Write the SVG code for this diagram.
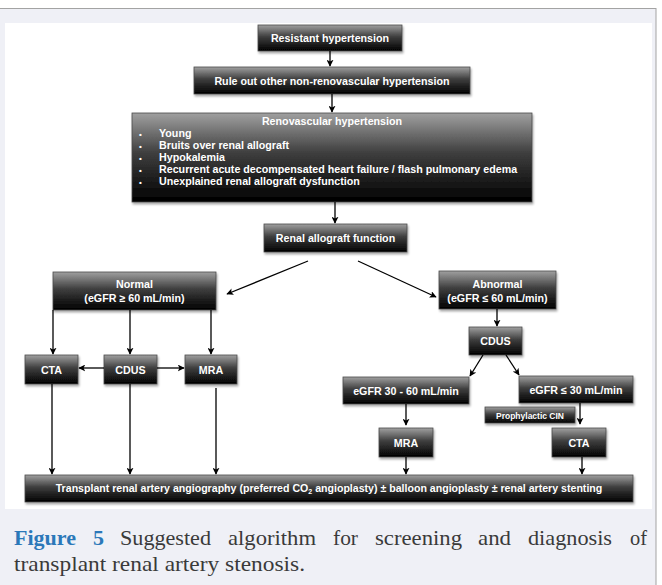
<svg xmlns="http://www.w3.org/2000/svg" width="662" height="585" viewBox="0 0 662 585">
<defs>
<linearGradient id="g" x1="0" y1="0" x2="0" y2="1">
<stop offset="0" stop-color="#a0a0a0"/>
<stop offset="0.45" stop-color="#3e3e3e"/>
<stop offset="1" stop-color="#000"/>
</linearGradient>
<filter id="sh" x="-10%" y="-20%" width="120%" height="150%">
<feDropShadow dx="1" dy="2" stdDeviation="1.2" flood-color="#000" flood-opacity="0.35"/>
</filter>
<marker id="ah" viewBox="0 0 10 10" refX="9" refY="5" markerWidth="7" markerHeight="7" markerUnits="userSpaceOnUse" orient="auto">
<path d="M0,0 L10,5 L0,10 L2.5,5 z" fill="#000"/>
</marker>
<style>
.box{fill:url(#g);stroke:#4a4a4a;stroke-width:0.8;filter:url(#sh)}
.t{font-family:"Liberation Sans",Arial,Helvetica,sans-serif;font-weight:bold;fill:#fff;font-size:10.7px;text-anchor:middle}
.tl{text-anchor:start}
.c line,.c path{stroke:#000;stroke-width:1.3;fill:none}
.a{marker-end:url(#ah)}
.cap{font-family:"Liberation Serif","Times New Roman",serif;font-size:22px;fill:#3a3a3a}
.capb{font-weight:bold;fill:#2b78b9}
</style>
</defs>
<rect x="0" y="0" width="662" height="585" fill="#fff"/>
<rect x="-1" y="8.5" width="657" height="600" fill="#eff0f6" stroke="#a3a3a3" stroke-width="1"/>
<rect x="5" y="23" width="647" height="486" fill="#fff"/>

<g id="resistant"><rect class="box" x="258" y="25" width="144" height="26"/><text class="t" x="330" y="42">Resistant hypertension</text></g>
<g id="ruleout"><rect class="box" x="194" y="67" width="276" height="27"/><text class="t" x="332" y="84.5">Rule out other non-renovascular hypertension</text></g>
<g id="renovascular"><rect class="box" x="132" y="113" width="400" height="89"/>
<text class="t" x="332" y="124.5">Renovascular hypertension</text>
<text class="t tl" x="139" y="136.5" style="font-size:8px">•</text><text class="t tl" x="159" y="136.5">Young</text>
<text class="t tl" x="139" y="148.5" style="font-size:8px">•</text><text class="t tl" x="159" y="148.5">Bruits over renal allograft</text>
<text class="t tl" x="139" y="160.5" style="font-size:8px">•</text><text class="t tl" x="159" y="160.5">Hypokalemia</text>
<text class="t tl" x="139" y="172.5" style="font-size:8px">•</text><text class="t tl" x="159" y="172.5">Recurrent acute decompensated heart failure / flash pulmonary edema</text>
<text class="t tl" x="139" y="184.5" style="font-size:8px">•</text><text class="t tl" x="159" y="184.5">Unexplained renal allograft dysfunction</text>
</g>
<g id="renalfunction"><rect class="box" x="264" y="224" width="143" height="28"/><text class="t" x="335.5" y="242">Renal allograft function</text></g>
<g id="normal"><rect class="box" x="53" y="272" width="163" height="38"/><text class="t" x="134.5" y="288">Normal</text><text class="t" x="134.5" y="301.5">(eGFR ≥ 60 mL/min)</text></g>
<g id="abnormal"><rect class="box" x="439" y="271" width="117" height="38"/><text class="t" x="497.5" y="288">Abnormal</text><text class="t" x="497.5" y="301.5">(eGFR ≤ 60 mL/min)</text></g>
<g id="cdus-right"><rect class="box" x="469" y="327" width="53" height="28"/><text class="t" x="495.5" y="345">CDUS</text></g>
<g id="cta-left"><rect class="box" x="25" y="355" width="53" height="29"/><text class="t" x="51.5" y="373.5">CTA</text></g>
<g id="cdus-left"><rect class="box" x="104" y="355" width="53" height="29"/><text class="t" x="130.5" y="373.5">CDUS</text></g>
<g id="mra-left"><rect class="box" x="185" y="355" width="52" height="29"/><text class="t" x="211" y="373.5">MRA</text></g>
<g id="egfr30-60"><rect class="box" x="343" y="377" width="126" height="27"/><text class="t" x="406" y="394.5">eGFR 30 - 60 mL/min</text></g>
<g id="egfr30"><rect class="box" x="519" y="376" width="114" height="27"/><text class="t" x="576" y="393.5">eGFR ≤ 30 mL/min</text></g>
<g id="cin"><rect class="box" x="485" y="407" width="90" height="16"/><text class="t" x="530" y="418.5" style="font-size:8.5px">Prophylactic CIN</text></g>
<g id="mra-right"><rect class="box" x="379" y="428" width="54" height="29"/><text class="t" x="406" y="446.5">MRA</text></g>
<g id="cta-right"><rect class="box" x="552" y="428" width="54" height="29"/><text class="t" x="579" y="446.5">CTA</text></g>
<g id="angiography"><rect class="box" x="25" y="475" width="608" height="27"/><text class="t" x="329" y="492" style="font-size:10.6px">Transplant renal artery angiography (preferred CO<tspan style="font-size:7px" dy="2">2</tspan><tspan dy="-2"> angioplasty) ± balloon angioplasty ± renal artery stenting</tspan></text></g>

<g id="connectors" class="c">
<line class="a" x1="330" y1="51" x2="330" y2="66"/>
<line class="a" x1="332" y1="94" x2="332" y2="112"/>
<line class="a" x1="335" y1="202" x2="335" y2="223"/>
<line class="a" x1="308" y1="261" x2="227" y2="294"/>
<line class="a" x1="358" y1="261" x2="436" y2="297"/>
<line class="a" x1="53" y1="310" x2="53" y2="354"/>
<line class="a" x1="130" y1="310" x2="130" y2="354"/>
<line class="a" x1="211" y1="310" x2="211" y2="354"/>
<line class="a" x1="104" y1="368" x2="79" y2="368"/>
<line class="a" x1="157" y1="368" x2="184" y2="368"/>
<line class="a" x1="52" y1="384" x2="52" y2="474"/>
<line class="a" x1="130" y1="384" x2="130" y2="474"/>
<line class="a" x1="216" y1="388" x2="216" y2="474"/>
<line class="a" x1="497" y1="309" x2="497" y2="326"/>
<line class="a" x1="483" y1="355" x2="470" y2="376"/>
<line class="a" x1="506" y1="355" x2="519" y2="375"/>
<line class="a" x1="406" y1="404" x2="406" y2="425"/>
<line class="a" x1="580" y1="403" x2="580" y2="424"/>
<line class="a" x1="406" y1="457" x2="406" y2="474"/>
<line class="a" x1="582" y1="457" x2="582" y2="474"/>
</g>

<g id="caption" class="cap">
<text class="capb" x="14" y="545" textLength="62" lengthAdjust="spacingAndGlyphs">Figure</text>
<text class="capb" x="93" y="545">5</text>
<text x="120" y="545" textLength="91" lengthAdjust="spacingAndGlyphs">Suggested</text>
<text x="228" y="545" textLength="88" lengthAdjust="spacingAndGlyphs">algorithm</text>
<text x="333" y="545" textLength="25" lengthAdjust="spacingAndGlyphs">for</text>
<text x="375" y="545" textLength="87" lengthAdjust="spacingAndGlyphs">screening</text>
<text x="478" y="545" textLength="33" lengthAdjust="spacingAndGlyphs">and</text>
<text x="528" y="545" textLength="84" lengthAdjust="spacingAndGlyphs">diagnosis</text>
<text x="630" y="545" textLength="17" lengthAdjust="spacingAndGlyphs">of</text>
<text x="14" y="571" textLength="291" lengthAdjust="spacingAndGlyphs">transplant renal artery stenosis.</text>
</g>
</svg>
